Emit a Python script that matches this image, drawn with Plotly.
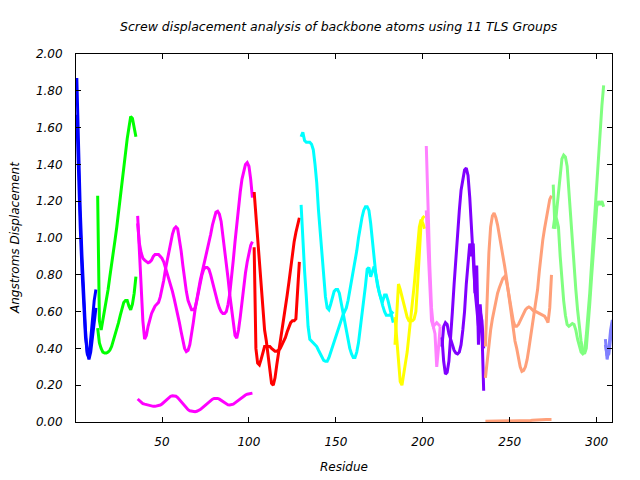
import plotly.graph_objects as go

# ---------------- data (residue start + screw displacement curves) ----------------
blue_start = 1
blue_a = [1.87, 1.45, 1.15, 0.90, 0.68, 0.50, 0.37, 0.35, 0.45, 0.58, 0.66, 0.72]
blue_b = [1.67, 1.30, 1.05, 0.82, 0.62, 0.46, 0.38, 0.34, 0.38, 0.47, 0.55, 0.62]

green_start = 13
green_a = [1.23, 0.55, 0.50, 0.55, 0.60, 0.66, 0.72, 0.79, 0.85, 0.92, 0.99, 1.06,
           1.14, 1.22, 1.31, 1.40, 1.47, 1.54, 1.60, 1.66, 1.65, 1.60, 1.55]
green_b = [0.51, 0.43, 0.40, 0.38, 0.375, 0.375, 0.38, 0.39, 0.41, 0.44, 0.47, 0.50,
           0.54, 0.58, 0.62, 0.65, 0.66, 0.66, 0.63, 0.61, 0.64, 0.70, 0.79]

magenta_start = 36
magenta_a = [1.12, 0.92, 0.72, 0.55, 0.45, 0.47, 0.52, 0.56, 0.59, 0.61, 0.63, 0.64,
             0.65, 0.68, 0.72, 0.77, 0.83, 0.88, 0.93, 0.98, 1.02, 1.05, 1.06, 1.05,
             1.00, 0.93, 0.85, 0.77, 0.71, 0.66, 0.63, 0.61, 0.61, 0.62, 0.66, 0.71,
             0.76, 0.80, 0.83, 0.84, 0.84, 0.83, 0.80, 0.76, 0.72, 0.68, 0.65, 0.62,
             0.60, 0.59, 0.59, 0.60, 0.64, 0.70, 0.78, 0.88, 0.98, 1.08, 1.17, 1.25,
             1.32, 1.37, 1.40, 1.41, 1.39, 1.32, 1.22]
magenta_b = [1.08, 0.97, 0.92, 0.89, 0.88, 0.87, 0.865, 0.87, 0.88, 0.90, 0.91, 0.91,
             0.91, 0.90, 0.89, 0.87, 0.84, 0.81, 0.78, 0.75, 0.71, 0.67, 0.63, 0.59,
             0.54, 0.49, 0.44, 0.40, 0.383, 0.39, 0.42, 0.47, 0.54, 0.61, 0.67, 0.72,
             0.77, 0.81, 0.85, 0.89, 0.93, 0.97, 1.02, 1.07, 1.11, 1.14, 1.145, 1.13,
             1.09, 1.02, 0.95, 0.86, 0.78, 0.69, 0.61, 0.53, 0.47, 0.455, 0.50, 0.57,
             0.66, 0.74, 0.81, 0.87, 0.92, 0.96, 0.98]
magenta_c = [0.125, 0.115, 0.105, 0.100, 0.097, 0.094, 0.090, 0.088, 0.086, 0.085,
             0.085, 0.086, 0.088, 0.092, 0.098, 0.106, 0.115, 0.125, 0.134, 0.140,
             0.143, 0.143, 0.140, 0.133, 0.122, 0.110, 0.097, 0.085, 0.075, 0.067,
             0.061, 0.058, 0.056, 0.056, 0.058, 0.062, 0.068, 0.075, 0.083, 0.092,
             0.101, 0.110, 0.118, 0.124, 0.128, 0.129, 0.128, 0.124, 0.118, 0.110,
             0.103, 0.097, 0.093, 0.092, 0.093, 0.097, 0.104, 0.112, 0.120, 0.128,
             0.135, 0.141, 0.147, 0.151, 0.154, 0.156, 0.157]

red_start = 103
red_a = [1.25, 1.12, 1.00, 0.88, 0.75, 0.60, 0.50, 0.44, 0.37, 0.27, 0.21, 0.20,
         0.24, 0.31, 0.37, 0.43, 0.50, 0.56, 0.62, 0.69, 0.76, 0.84, 0.91, 0.98,
         1.03, 1.08, 1.11]
red_b = [0.95, 0.40, 0.32, 0.31, 0.34, 0.38, 0.41, 0.41, 0.41, 0.41, 0.40, 0.39,
         0.385, 0.385, 0.39, 0.40, 0.42, 0.44, 0.46, 0.49, 0.52, 0.54, 0.55, 0.55,
         0.56, 0.74, 0.87]

cyan_start = 130
cyan_a = [1.55, 1.575, 1.53, 1.52, 1.52, 1.52, 1.51, 1.48, 1.40, 1.30, 1.15, 1.02,
          0.90, 0.78, 0.68, 0.62, 0.61, 0.64, 0.68, 0.71, 0.72, 0.72, 0.70, 0.65,
          0.60, 0.55, 0.49, 0.44, 0.40, 0.37, 0.35, 0.35, 0.38, 0.43, 0.50, 0.58,
          0.66, 0.74, 0.83, 0.84, 0.79, 0.82, 0.845, 0.80, 0.74, 0.70, 0.67, 0.66,
          0.69, 0.69, 0.66, 0.62, 0.57, 0.54]
cyan_b = [1.18, 0.98, 0.82, 0.68, 0.52, 0.45, 0.44, 0.43, 0.42, 0.41, 0.39, 0.37,
          0.35, 0.335, 0.33, 0.33, 0.35, 0.38, 0.41, 0.44, 0.47, 0.50, 0.52, 0.55,
          0.58, 0.60, 0.62, 0.66, 0.71, 0.76, 0.81, 0.87, 0.93, 1.00, 1.06, 1.11,
          1.15, 1.17, 1.17, 1.15, 1.08, 0.98, 0.88, 0.80, 0.74, 0.70, 0.66, 0.63,
          0.60, 0.58, 0.58, 0.58, 0.59, 0.60]

yellow_start = 184
yellow_a = [0.42, 0.62, 0.75, 0.72, 0.68, 0.64, 0.60, 0.57, 0.55, 0.55, 0.55, 0.56,
            0.60, 0.75, 0.95, 1.08, 1.11, 1.12]
yellow_b = [0.57, 0.45, 0.32, 0.22, 0.20, 0.25, 0.32, 0.38, 0.46, 0.55, 0.65, 0.74,
            0.85, 0.97, 1.06, 1.10, 1.08, 1.05]

violet_start = 202
violet_a = [1.50, 1.15, 0.85, 0.62, 0.52, 0.48, 0.30, 0.40, 0.52]
violet_b = [1.15, 0.92, 0.70, 0.55, 0.52, 0.53, 0.54, 0.53, 0.52]

purple_start = 211
purple_a = [0.41, 0.52, 0.54, 0.53, 0.48, 0.45, 0.42, 0.39, 0.375, 0.37, 0.38, 0.42,
            0.50, 0.60, 0.75, 0.88, 0.97, 0.90, 0.97, 0.70, 0.85, 0.42, 0.64, 0.50,
            0.17]
purple_b = [0.46, 0.33, 0.26, 0.27, 0.33, 0.45, 0.60, 0.75, 0.90, 1.03, 1.15, 1.26,
            1.33, 1.37, 1.38, 1.34, 1.22, 1.05, 0.86, 0.72, 0.62, 0.52, 0.60, 0.55,
            0.40]

salmon_start = 236
salmon_a = [0.24, 0.34, 0.43, 0.50, 0.56, 0.61, 0.66, 0.70, 0.73, 0.76, 0.78, 0.79,
            0.77, 0.72, 0.66, 0.60, 0.55, 0.52, 0.52, 0.53, 0.55, 0.57, 0.59, 0.61,
            0.62, 0.625, 0.62, 0.61, 0.60, 0.60, 0.595, 0.59, 0.585, 0.58, 0.575,
            0.56, 0.54, 0.62, 0.80]
salmon_b = [0.41, 0.68, 0.92, 1.06, 1.12, 1.136, 1.11, 1.07, 1.02, 0.96, 0.90, 0.85,
            0.79, 0.72, 0.66, 0.58, 0.50, 0.44, 0.40, 0.34, 0.30, 0.275, 0.28, 0.30,
            0.34, 0.40, 0.46, 0.52, 0.58, 0.64, 0.72, 0.82, 0.92, 0.99, 1.05, 1.11,
            1.16, 1.21, 1.23]
salmon_c = [0.004, 0.004, 0.005, 0.006, 0.007, 0.008, 0.008, 0.008, 0.007, 0.006,
            0.006, 0.005, 0.005, 0.005, 0.005, 0.005, 0.005, 0.005, 0.005, 0.006,
            0.006, 0.006, 0.006, 0.006, 0.007, 0.007, 0.008, 0.009, 0.010, 0.010,
            0.011, 0.011, 0.012, 0.012, 0.012, 0.013, 0.013, 0.013, 0.013]

lightgreen_start = 275
lightgreen_a = [1.29, 1.05, 1.15, 1.25, 1.37, 1.43, 1.45, 1.44, 1.39, 1.25, 1.10, 0.97,
                0.84, 0.72, 0.61, 0.51, 0.44, 0.39, 0.37, 0.40, 0.50, 0.64, 0.78, 0.93,
                1.08, 1.17, 1.20, 1.18, 1.20, 1.17]
lightgreen_b = [1.05, 1.12, 1.10, 1.06, 0.90, 0.76, 0.66, 0.58, 0.53, 0.52, 0.53, 0.535,
                0.53, 0.50, 0.45, 0.41, 0.38, 0.37, 0.38, 0.47, 0.58, 0.70, 0.85, 1.00,
                1.12, 1.30, 1.45, 1.60, 1.72, 1.83]

lightblue_start = 305
lightblue_a = [0.45, 0.34, 0.40, 0.50, 0.555]
lightblue_b = [0.42, 0.36, 0.37, 0.46, 0.54]

x_ticks = [50, 100, 150, 200, 250, 300]
y_ticks = [0.0, 0.2, 0.4, 0.6, 0.8, 1.0, 1.2, 1.4, 1.6, 1.8, 2.0]

groups = [
    (blue_start, [blue_a, blue_b], "#0000ff"),
    (green_start, [green_a, green_b], "#00ff00"),
    (magenta_start, [magenta_a, magenta_b, magenta_c], "#ff00ff"),
    (red_start, [red_a, red_b], "#ff0000"),
    (cyan_start, [cyan_a, cyan_b], "#00ffff"),
    (yellow_start, [yellow_a, yellow_b], "#ffff00"),
    (violet_start, [violet_a, violet_b], "#ff80ff"),
    (purple_start, [purple_a, purple_b], "#8000ff"),
    (salmon_start, [salmon_a, salmon_b, salmon_c], "#ffa07a"),
    (lightgreen_start, [lightgreen_a, lightgreen_b], "#80ff80"),
    (lightblue_start, [lightblue_a, lightblue_b], "#8080ff"),
]

fig = go.Figure()
for start, curves, color in groups:
    for ys in curves:
        xs = list(range(start, start + len(ys)))
        fig.add_trace(go.Scatter(x=xs, y=ys, mode="lines",
                                 line=dict(color=color, width=3),
                                 showlegend=False, hoverinfo="skip"))

FONT = "DejaVu Sans"
tickfont = dict(family=FONT, size=12, color="black", style="italic")

fig.update_layout(
    width=640, height=480,
    margin=dict(l=76, r=28, t=54, b=58),
    paper_bgcolor="white", plot_bgcolor="white",
    showlegend=False,
)
fig.update_xaxes(
    range=[0.54, 308.8], tickvals=x_ticks, ticktext=[str(v) for v in x_ticks],
    ticks="inside", ticklen=5, tickcolor="black", tickwidth=1,
    showline=True, linecolor="black", linewidth=1, mirror="ticks",
    showgrid=False, zeroline=False, tickfont=tickfont, ticklabelstandoff=9,
)
fig.update_yaxes(
    range=[0, 2.0], tickvals=y_ticks, ticktext=["%.2f" % v for v in y_ticks],
    ticks="inside", ticklen=5, tickcolor="black", tickwidth=1,
    showline=True, linecolor="black", linewidth=1, mirror="ticks",
    showgrid=False, zeroline=False, tickfont=tickfont, ticklabelstandoff=10,
)

title_font = dict(family=FONT, size=12.5, color="black", style="italic")
axis_title_font = dict(family=FONT, size=12, color="black", style="italic")
fig.add_annotation(text="Screw displacement analysis of backbone atoms using 11 TLS Groups",
                   xref="paper", yref="paper", x=(338.5 - 76) / 536, y=1 + (54 - 27) / 368,
                   xanchor="center", yanchor="middle", showarrow=False, font=title_font)
fig.add_annotation(text="Residue", xref="paper", yref="paper",
                   x=(344 - 76) / 536, y=-(467 - 422) / 368,
                   xanchor="center", yanchor="middle", showarrow=False, font=axis_title_font)
fig.add_annotation(text="Angstroms Displacement", xref="paper", yref="paper",
                   x=-(76 - 15) / 536, y=0.5, textangle=-90,
                   xanchor="center", yanchor="middle", showarrow=False, font=axis_title_font)

fig.write_html("out.html")
